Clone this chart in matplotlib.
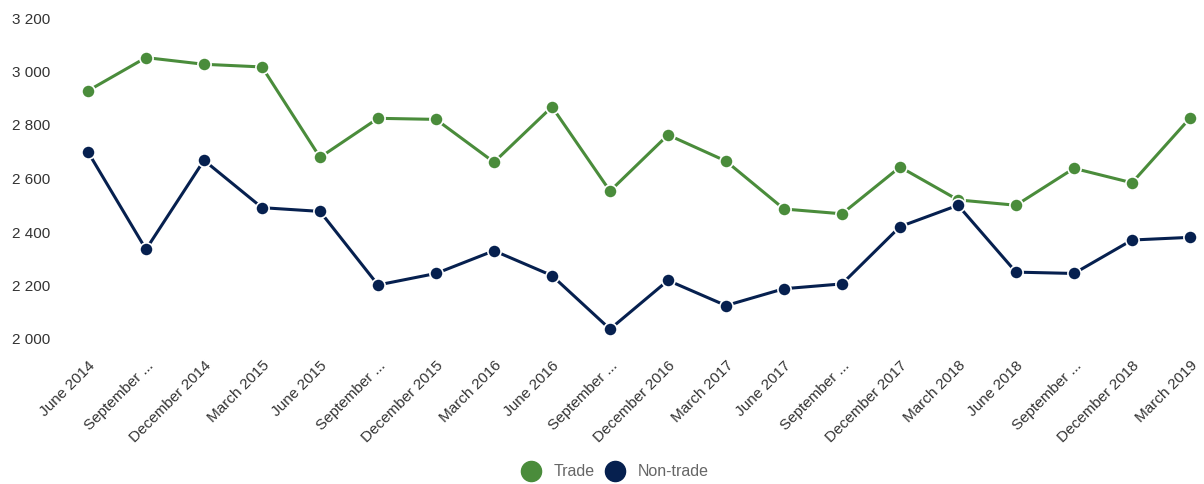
import matplotlib
matplotlib.use("Agg")
import matplotlib.pyplot as plt
from matplotlib.lines import Line2D
from matplotlib.ticker import FuncFormatter

categories = ["June 2014", "September ...", "December 2014", "March 2015", "June 2015",
              "September ...", "December 2015", "March 2016", "June 2016", "September ...",
              "December 2016", "March 2017", "June 2017", "September ...", "December 2017",
              "March 2018", "June 2018", "September ...", "December 2018", "March 2019"]
trade = [2928, 3052, 3027, 3017, 2679, 2825, 2821, 2661, 2868, 2553,
         2763, 2665, 2486, 2468, 2643, 2520, 2500, 2638, 2584, 2826]
non_trade = [2699, 2335, 2668, 2491, 2477, 2202, 2245, 2330, 2237, 2037,
             2219, 2125, 2188, 2206, 2420, 2500, 2250, 2245, 2370, 2380]
y_ticks = [2000, 2200, 2400, 2600, 2800, 3000, 3200]

GREEN = "#4A8C3B"
NAVY = "#06204F"

plt.rcParams['font.family'] = ['Liberation Sans', 'DejaVu Sans']

W, H = 1204, 484
fig = plt.figure(figsize=(W / 100, H / 100), dpi=100)
ax = fig.add_axes([88 / W, 1 - 339 / H, (1190 - 88) / W, (339 - 18) / H])

x = list(range(len(categories)))
for vals, col, lab in [(trade, GREEN, "Trade"), (non_trade, NAVY, "Non-trade")]:
    ax.plot(x, vals, color=col, lw=2.2, marker='o', markersize=9.5,
            markerfacecolor=col, markeredgecolor='white', markeredgewidth=1.2,
            clip_on=False, label=lab, zorder=3)

ax.set_xlim(0, len(categories) - 1)
ax.set_ylim(2000, 3200)
ax.set_yticks(y_ticks)
ax.yaxis.set_major_formatter(FuncFormatter(lambda v, p: f"{int(v):,}".replace(",", " ")))
ax.set_xticks(x)
ax.set_xticklabels(categories, rotation=45, ha='right', rotation_mode='anchor')
for s in ax.spines.values():
    s.set_visible(False)
ax.tick_params(axis='y', length=0, pad=27, labelsize=11, labelcolor='#333333')
ax.tick_params(axis='x', length=0, pad=14, labelsize=11, labelcolor='#333333')

handles = [Line2D([], [], ls='none', marker='o', markersize=14.5, color=GREEN),
           Line2D([], [], ls='none', marker='o', markersize=14.5, color=NAVY)]
fig.legend(handles, ["Trade", "Non-trade"], loc='center', bbox_to_anchor=(0.511, 1 - 472 / H),
           ncol=2, frameon=False, fontsize=11.5, labelcolor='#666666',
           handletextpad=0.8, columnspacing=0.7, handlelength=1.2)

fig.savefig("out.png", dpi=100)
